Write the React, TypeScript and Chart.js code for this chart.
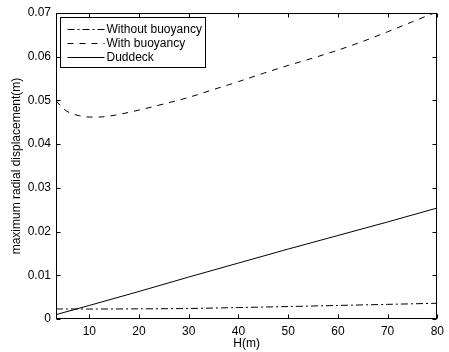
import React, { useEffect, useRef } from "react";
import { Chart, registerables } from "chart.js";

Chart.register(...registerables);

// ---- data ----
const H_WITH = [3.3, 4.5, 6, 8, 10, 12, 15, 20, 25, 30, 35, 40, 45, 50, 55, 60, 65, 70, 75, 80];
const WITH_BUOYANCY = [
  0.05, 0.0484, 0.0472, 0.0465, 0.0462, 0.0462, 0.0466, 0.0478, 0.0492, 0.0507,
  0.0525, 0.0543, 0.0562, 0.058, 0.0597, 0.0615, 0.0635, 0.0657, 0.068, 0.0703,
];
const H_LIN = [3.3, 10, 20, 30, 40, 50, 60, 70, 80];
const WITHOUT_BUOYANCY = [0.0023, 0.00228, 0.00232, 0.0024, 0.00262, 0.00285, 0.0031, 0.00335, 0.0036];
const DUDDECK = [0.001, 0.0031, 0.0063, 0.0096, 0.0128, 0.016, 0.0191, 0.0222, 0.0254];

const SERIES_NAMES = ["Without buoyancy", "With buoyancy", "Duddeck"];
const X_TICKS = [10, 20, 30, 40, 50, 60, 70, 80];
const Y_TICKS = [0, 0.01, 0.02, 0.03, 0.04, 0.05, 0.06, 0.07];
const Y_TICK_LABELS = ["0", "0.01", "0.02", "0.03", "0.04", "0.05", "0.06", "0.07"];
const X_TITLE = "H(m)";
const Y_TITLE = "maximum radial displacement(m)";

const FONT = "'Liberation Sans', Arial, Helvetica, sans-serif";
const FS = 12;

const boxPlugin = {
  id: "boxTicks",
  afterDraw(chart: any) {
    const ctx = chart.ctx;
    const a = chart.chartArea;
    const xs = chart.scales.x;
    const ys = chart.scales.y;
    ctx.save();
    ctx.strokeStyle = "#000";
    ctx.lineWidth = 1;
    const L = Math.round(a.left) + 0.5;
    const R = Math.round(a.right) - 0.5;
    const T = Math.round(a.top) + 0.5;
    const B = Math.round(a.bottom) - 0.5;
    ctx.strokeRect(L, T, R - L, B - T);
    const tl = 4;
    ctx.beginPath();
    X_TICKS.forEach((v) => {
      const px = Math.round(xs.getPixelForValue(v)) + 0.5;
      ctx.moveTo(px, B);
      ctx.lineTo(px, B - tl);
      ctx.moveTo(px, T);
      ctx.lineTo(px, T + tl);
    });
    Y_TICKS.forEach((v) => {
      const py = Math.round(ys.getPixelForValue(v)) + 0.5;
      ctx.moveTo(L, py);
      ctx.lineTo(L + tl, py);
      ctx.moveTo(R, py);
      ctx.lineTo(R - tl, py);
    });
    ctx.stroke();

    // legend
    const lx = L + 4;
    const ly = T + 4;
    const lw = 145;
    const lh = 50;
    ctx.fillStyle = "#fff";
    ctx.fillRect(lx, ly, lw, lh);
    ctx.strokeRect(lx, ly, lw, lh);
    ctx.font = FS + "px " + FONT;
    ctx.textBaseline = "middle";
    ctx.textAlign = "left";
    chart.data.datasets.forEach((ds: any, i: number) => {
      const y = Math.round(ly + 11.5 + i * 14) + 0.5;
      ctx.save();
      ctx.strokeStyle = ds.borderColor;
      ctx.lineWidth = ds.borderWidth;
      ctx.setLineDash(ds.borderDash || []);
      ctx.beginPath();
      ctx.moveTo(lx + 7, y);
      ctx.lineTo(lx + 44, y);
      ctx.stroke();
      ctx.restore();
      ctx.fillStyle = "#000";
      ctx.fillText(ds.label, lx + 46, y);
    });
    ctx.restore();
  },
};

export default function App() {
  const ref = useRef<HTMLCanvasElement | null>(null);
  useEffect(() => {
    if (!ref.current) return;
    const toXY = (xs: number[], ys: number[]) => xs.map((x, i) => ({ x, y: ys[i] }));
    const chart = new Chart(ref.current, {
      type: "line",
      data: {
        datasets: [
          {
            label: SERIES_NAMES[0],
            data: toXY(H_LIN, WITHOUT_BUOYANCY),
            borderColor: "#000",
            borderWidth: 1,
            borderDash: [7, 3, 2, 3],
            pointRadius: 0,
            tension: 0.3,
            fill: false,
          },
          {
            label: SERIES_NAMES[1],
            data: toXY(H_WITH, WITH_BUOYANCY),
            borderColor: "#000",
            borderWidth: 1,
            borderDash: [6, 6],
            pointRadius: 0,
            cubicInterpolationMode: "monotone",
            fill: false,
          },
          {
            label: SERIES_NAMES[2],
            data: toXY(H_LIN, DUDDECK),
            borderColor: "#000",
            borderWidth: 1,
            pointRadius: 0,
            fill: false,
          },
        ],
      },
      options: {
        animation: false,
        responsive: false,
        maintainAspectRatio: false,
        layout: { padding: { top: 13, right: 4, left: 0, bottom: 0 } },
        plugins: { legend: { display: false }, tooltip: { enabled: false } },
        scales: {
          x: {
            type: "linear",
            min: 3.3,
            max: 80,
            grid: { display: false, drawTicks: false },
            border: { display: false },
            afterBuildTicks: (s: any) => {
              s.ticks = X_TICKS.map((v) => ({ value: v }));
            },
            afterFit: (s: any) => {
              s.height = 33;
            },
            ticks: {
              color: "#000",
              font: { family: FONT, size: FS },
              padding: 5,
              maxRotation: 0,
              autoSkip: false,
              callback: (v: any) => String(v),
            },
            title: {
              display: true,
              text: X_TITLE,
              color: "#000",
              font: { family: FONT, size: FS },
              padding: { top: 0, bottom: 1 },
            },
          },
          y: {
            type: "linear",
            min: 0,
            max: 0.07,
            grid: { display: false, drawTicks: false },
            border: { display: false },
            afterBuildTicks: (s: any) => {
              s.ticks = Y_TICKS.map((v) => ({ value: v }));
            },
            afterFit: (s: any) => {
              s.width = 56;
            },
            ticks: {
              color: "#000",
              font: { family: FONT, size: FS },
              padding: 5,
              autoSkip: false,
              callback: (v: any) => {
                const i = Y_TICKS.findIndex((t) => Math.abs(t - v) < 1e-9);
                return i >= 0 ? Y_TICK_LABELS[i] : "";
              },
            },
            title: {
              display: true,
              text: Y_TITLE,
              color: "#000",
              font: { family: FONT, size: FS },
              padding: { top: 9, bottom: 0 },
            },
          },
        },
      },
      plugins: [boxPlugin],
    } as any);
    return () => chart.destroy();
  }, []);
  return (
    <div style={{ position: "absolute", left: 0, top: 0, width: 449, height: 352, background: "#fff" }}>
      <canvas ref={ref} width={449} height={352} style={{ display: "block", width: 449, height: 352 }} />
    </div>
  );
}
